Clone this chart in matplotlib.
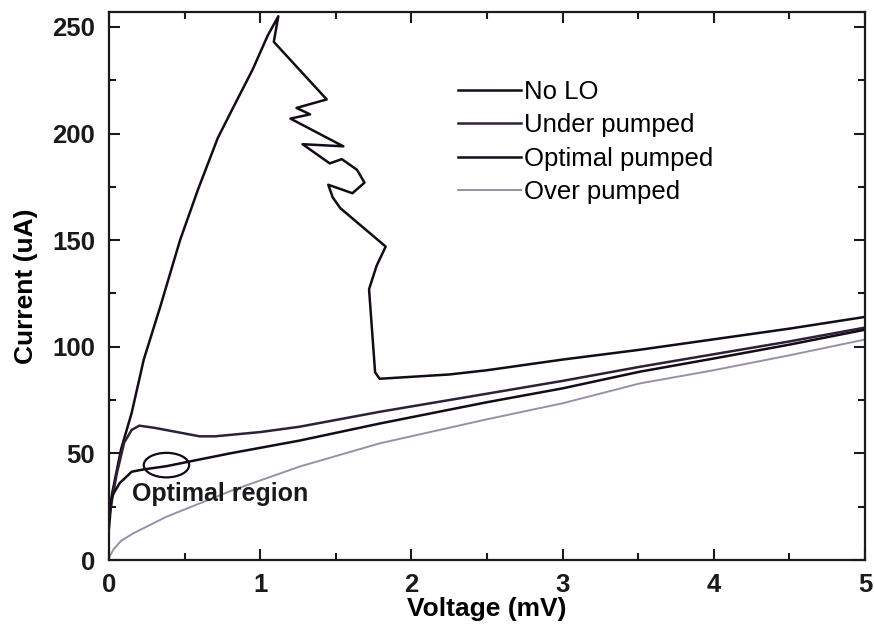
import matplotlib
matplotlib.use('Agg')
import matplotlib.pyplot as plt
from matplotlib.patches import Ellipse
from matplotlib.ticker import MultipleLocator

plt.rcParams['font.family'] = ['Liberation Sans', 'DejaVu Sans']

# I-V curves (voltage in mV, current in uA)
nolo_v = [0, 0.02, 0.08, 0.15, 0.23, 0.34, 0.47, 0.59, 0.72, 0.82, 0.95, 1.05, 1.12,
          1.09, 1.44, 1.24, 1.33, 1.20, 1.55, 1.28, 1.46, 1.54, 1.64, 1.69, 1.61,
          1.45, 1.48, 1.53, 1.83, 1.77, 1.72, 1.76, 1.79, 2.25, 2.5, 3.0, 3.5,
          4.0, 4.5, 5.0]
nolo_i = [15, 31, 52, 69, 94, 119, 150, 174, 198, 212, 230, 246, 255,
          243, 216, 212, 209, 207, 194, 195, 186, 188, 183, 177, 172,
          176, 170, 165, 147, 138, 127, 88, 85, 87, 89, 94, 98.5,
          103.5, 108.5, 114]

under_v = [0, 0.05, 0.1, 0.15, 0.2, 0.3, 0.45, 0.6, 0.7, 1.0, 1.26, 1.79, 2.5,
           3.0, 3.51, 4.0, 4.5, 5.0]
under_i = [20, 40, 55, 61, 63, 62, 60, 58, 58, 60, 62.5, 69.5, 78,
           84, 90.6, 96.5, 102.5, 109]

optimal_v = [0, 0.02, 0.07, 0.15, 0.23, 0.38, 0.54, 0.8, 1.26, 1.79, 2.5, 3.0,
             3.51, 4.0, 4.5, 5.0]
optimal_i = [22, 30, 36, 41.4, 42.5, 44, 46.3, 50, 56, 64, 74, 80.5,
             88.3, 94.5, 101, 108]

over_v = [0, 0.03, 0.08, 0.16, 0.38, 0.82, 1.26, 1.79, 2.5, 3.0, 3.51, 4.0,
          4.5, 5.0]
over_i = [1, 5, 9, 12.5, 20.3, 32.8, 43.8, 54.7, 66, 73.5, 82.8, 89,
          96, 103.4]

fig = plt.figure(figsize=(8.74, 6.31), dpi=100)
ax = fig.add_axes([0.1247, 0.1125, 0.865, 0.8685])

ax.plot(nolo_v, nolo_i, color='#140a18', lw=1.8, label='No LO')
ax.plot(under_v, under_i, color='#2e2036', lw=1.8, label='Under pumped')
ax.plot(optimal_v, optimal_i, color='#140a18', lw=1.8, label='Optimal pumped')
ax.plot(over_v, over_i, color='#9a90a6', lw=1.4, label='Over pumped')

# circled optimal region
ax.add_patch(Ellipse((0.38, 44.5), 0.3, 11.5, fill=False, ec='#140a18', lw=1.6))
ax.text(0.155, 31, 'Optimal region', fontsize=18, fontweight='bold',
        ha='left', va='center', color='#1a1a1a')

ax.set_xlim(0, 5)
ax.set_ylim(0, 257)
ax.xaxis.set_major_locator(MultipleLocator(1))
ax.xaxis.set_minor_locator(MultipleLocator(0.5))
ax.yaxis.set_major_locator(MultipleLocator(50))
ax.yaxis.set_minor_locator(MultipleLocator(25))
ax.tick_params(which='both', direction='in', top=True, right=True,
               width=1.5, colors='#1a1a1a')
ax.tick_params(which='major', length=8, labelsize=18.5)
ax.tick_params(axis='x', which='major', pad=9)
ax.tick_params(axis='y', which='major', pad=10)
ax.tick_params(which='minor', length=5)
for lab in ax.get_xticklabels() + ax.get_yticklabels():
    lab.set_fontweight('bold')
for sp in ax.spines.values():
    sp.set_linewidth(1.6)
    sp.set_color('#1a1a1a')

ax.set_xlabel('Voltage (mV)', fontsize=19, fontweight='bold', labelpad=0)
ax.set_ylabel('Current (uA)', fontsize=19, fontweight='bold', labelpad=10)

leg = ax.legend(loc='upper left', bbox_to_anchor=(0.462, 0.876), frameon=False,
                fontsize=18.5, handlelength=2.45, handletextpad=0.1,
                labelspacing=0.37, borderpad=0, borderaxespad=0)

fig.savefig('out.png', dpi=100)
